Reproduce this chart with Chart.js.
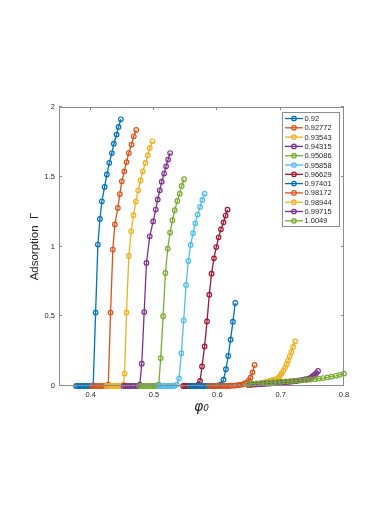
<!DOCTYPE html>
<html>
<head>
<meta charset="utf-8">
<title>Adsorption vs phi0</title>
<script src="https://cdn.jsdelivr.net/npm/chart.js@4.4.0/dist/chart.umd.min.js"></script>
<style>
  html, body { margin: 0; padding: 0; background: #fff; }
  #wrap { width: 390px; height: 505px; }
</style>
</head>
<body>
<div id="wrap"><canvas id="adsChart" width="390" height="505"></canvas></div>
<script>
// =========================
// Adsorption curves, one per legend value
// =========================

const curveLabels = ['0.92', '0.92772', '0.93543', '0.94315', '0.95086', '0.95858',
                     '0.96629', '0.97401', '0.98172', '0.98944', '0.99715', '1.0049'];

// x values (phi_0), one list per curve
const phiValues = [
    [0.377, 0.380, 0.384, 0.387, 0.391, 0.394, 0.398, 0.401, 0.404, 0.4078, 0.4114, 0.4146, 0.4177, 0.4220, 0.4256, 0.4294, 0.4335, 0.4366, 0.4409, 0.4440, 0.4476],
    [0.402, 0.405, 0.409, 0.412, 0.416, 0.420, 0.424, 0.4278, 0.4314, 0.4350, 0.4382, 0.4429, 0.4461, 0.4492, 0.4530, 0.4566, 0.4602, 0.4645, 0.4681, 0.4719],
    [0.425, 0.428, 0.432, 0.435, 0.439, 0.442, 0.446, 0.449, 0.4519, 0.4535, 0.4566, 0.4602, 0.4640, 0.4676, 0.4713, 0.4750, 0.4787, 0.4823, 0.4865, 0.4902, 0.4933, 0.4976],
    [0.452, 0.455, 0.459, 0.462, 0.466, 0.470, 0.474, 0.4776, 0.4807, 0.4845, 0.4881, 0.4933, 0.4987, 0.5028, 0.5059, 0.5091, 0.5122, 0.5160, 0.5191, 0.5223, 0.5254],
    [0.477, 0.481, 0.484, 0.488, 0.491, 0.495, 0.498, 0.502, 0.505, 0.5075, 0.5106, 0.5144, 0.5180, 0.5217, 0.5254, 0.5291, 0.5327, 0.5369, 0.5406, 0.5437, 0.5475],
    [0.508, 0.511, 0.515, 0.518, 0.522, 0.525, 0.529, 0.532, 0.536, 0.5396, 0.5432, 0.5469, 0.5506, 0.5542, 0.5579, 0.5616, 0.5652, 0.5689, 0.5727, 0.5763, 0.5799],
    [0.546, 0.549, 0.553, 0.556, 0.560, 0.563, 0.567, 0.570, 0.5727, 0.5758, 0.5799, 0.5837, 0.5873, 0.5909, 0.5947, 0.5983, 0.6020, 0.6057, 0.6098, 0.6130, 0.6161],
    [0.556, 0.560, 0.563, 0.567, 0.570, 0.574, 0.577, 0.581, 0.584, 0.588, 0.591, 0.595, 0.598, 0.602, 0.606, 0.6098, 0.6136, 0.6172, 0.6209, 0.6246, 0.6283],
    [0.587, 0.591, 0.594, 0.598, 0.601, 0.605, 0.608, 0.612, 0.615, 0.619, 0.622, 0.626, 0.629, 0.633, 0.636, 0.640, 0.643, 0.647, 0.6499, 0.6524, 0.6555, 0.6587],
    [0.648, 0.651, 0.655, 0.658, 0.662, 0.665, 0.669, 0.672, 0.676, 0.679, 0.683, 0.686, 0.690, 0.6939, 0.6965, 0.6991, 0.7018, 0.7043, 0.7070, 0.7097, 0.7117, 0.7144, 0.7169, 0.7196, 0.7228],
    [0.650, 0.654, 0.657, 0.661, 0.664, 0.668, 0.671, 0.675, 0.678, 0.682, 0.685, 0.689, 0.692, 0.696, 0.699, 0.703, 0.706, 0.710, 0.713, 0.717, 0.720, 0.724, 0.727, 0.731, 0.734, 0.738, 0.741, 0.7448, 0.7475, 0.7506, 0.7531, 0.7563, 0.7590],
    [0.649, 0.656, 0.662, 0.669, 0.675, 0.682, 0.688, 0.695, 0.701, 0.708, 0.715, 0.721, 0.728, 0.734, 0.741, 0.747, 0.754, 0.760, 0.767, 0.774, 0.780, 0.787, 0.793, 0.800]
];

// y values (adsorption Gamma), same order as phiValues
const gammaValues = [
    [0, 0, 0, 0, 0, 0, 0, 0, 0.005, 0.526, 1.014, 1.197, 1.324, 1.427, 1.516, 1.600, 1.670, 1.737, 1.802, 1.857, 1.912],
    [0, 0, 0, 0, 0, 0, 0, 0.01, 0.526, 0.978, 1.158, 1.276, 1.376, 1.467, 1.538, 1.605, 1.670, 1.730, 1.790, 1.835],
    [0, 0, 0, 0, 0, 0, 0, 0, 0.01, 0.089, 0.526, 0.932, 1.109, 1.224, 1.322, 1.403, 1.474, 1.539, 1.599, 1.654, 1.706, 1.754],
    [0, 0, 0, 0, 0, 0, 0, 0.01, 0.160, 0.530, 0.882, 1.073, 1.180, 1.265, 1.337, 1.403, 1.465, 1.523, 1.575, 1.623, 1.670],
    [0, 0, 0, 0, 0, 0, 0, 0, 0, 0.01, 0.200, 0.500, 0.810, 0.985, 1.100, 1.188, 1.260, 1.326, 1.379, 1.434, 1.482],
    [0, 0, 0, 0, 0, 0, 0, 0, 0.01, 0.055, 0.235, 0.470, 0.724, 0.896, 1.011, 1.095, 1.166, 1.229, 1.283, 1.334, 1.379],
    [0, 0, 0, 0, 0, 0, 0, 0.01, 0.036, 0.140, 0.284, 0.463, 0.654, 0.805, 0.915, 0.996, 1.066, 1.123, 1.173, 1.222, 1.264],
    [0, 0, 0, 0, 0, 0, 0, 0, 0, 0, 0, 0, 0.002, 0.005, 0.012, 0.045, 0.120, 0.215, 0.332, 0.461, 0.595],
    [0, 0, 0, 0, 0, 0, 0, 0, 0, 0, 0.002, 0.003, 0.004, 0.006, 0.008, 0.012, 0.018, 0.026, 0.041, 0.060, 0.098, 0.151],
    [0.005, 0.006, 0.008, 0.010, 0.012, 0.015, 0.018, 0.022, 0.027, 0.032, 0.037, 0.042, 0.046, 0.050, 0.060, 0.074, 0.091, 0.110, 0.132, 0.156, 0.182, 0.213, 0.244, 0.280, 0.320],
    [0.008, 0.010, 0.011, 0.012, 0.013, 0.014, 0.015, 0.016, 0.017, 0.018, 0.019, 0.020, 0.021, 0.022, 0.023, 0.025, 0.026, 0.028, 0.030, 0.032, 0.034, 0.036, 0.038, 0.041, 0.044, 0.047, 0.050, 0.053, 0.060, 0.070, 0.079, 0.093, 0.108],
    [0.015, 0.017, 0.019, 0.021, 0.023, 0.025, 0.027, 0.029, 0.031, 0.033, 0.035, 0.037, 0.039, 0.041, 0.043, 0.046, 0.049, 0.053, 0.057, 0.062, 0.067, 0.073, 0.080, 0.089]
];

const phiTicks = [0.4, 0.5, 0.6, 0.7, 0.8];
const gammaTicks = [0, 0.5, 1, 1.5, 2];

// MATLAB default line colour order (repeats after seven)
const lineColors = ['#0072BD', '#D95319', '#EDB120', '#7E2F8E', '#77AC30', '#4DBEEE', '#A2142F'];

const axisGray = '#8c8c8c';
const textColor = '#262626';

// Box round the axes with inward tick marks, plus the boxed legend in the top right
const matlabBox = {
    id: 'matlabBox',
    afterDraw(chart) {
        const { ctx, chartArea: a, scales } = chart;
        const tickLen = 3;
        ctx.save();
        ctx.strokeStyle = axisGray;
        ctx.lineWidth = 1;
        ctx.beginPath();
        ctx.rect(a.left + 0.5, a.top + 0.5, a.right - a.left - 1, a.bottom - a.top - 1);
        scales.x.ticks.forEach(t => {
            const px = Math.round(scales.x.getPixelForValue(t.value)) - 0.5;
            ctx.moveTo(px, a.bottom); ctx.lineTo(px, a.bottom - tickLen);
            ctx.moveTo(px, a.top); ctx.lineTo(px, a.top + tickLen);
        });
        scales.y.ticks.forEach(t => {
            const py = Math.round(scales.y.getPixelForValue(t.value)) - 0.5;
            ctx.moveTo(a.left, py); ctx.lineTo(a.left + tickLen, py);
            ctx.moveTo(a.right, py); ctx.lineTo(a.right - tickLen, py);
        });
        ctx.stroke();

        // legend
        const boxLeft = 282.5, boxTop = 112.5, boxW = 57, boxH = 114;
        ctx.fillStyle = '#fff';
        ctx.fillRect(boxLeft, boxTop, boxW, boxH);
        ctx.strokeStyle = axisGray;
        ctx.strokeRect(boxLeft, boxTop, boxW, boxH);
        ctx.font = '7.5px "Liberation Sans", Arial, sans-serif';
        ctx.textBaseline = 'middle';
        ctx.textAlign = 'left';
        chart.data.datasets.forEach((ds, i) => {
            const y = 118.5 + i * 9.3;
            ctx.strokeStyle = ds.borderColor;
            ctx.lineWidth = 1.3;
            ctx.beginPath();
            ctx.moveTo(285, y); ctx.lineTo(303, y);
            ctx.stroke();
            ctx.beginPath();
            ctx.arc(294, y, 2.2, 0, Math.PI * 2);
            ctx.stroke();
            ctx.fillStyle = textColor;
            ctx.fillText(ds.label, 304.5, y + 0.5);
        });
        ctx.restore();
    }
};

const datasets = curveLabels.map((label, i) => ({
    label: label,
    data: phiValues[i].map((x, j) => ({ x: x, y: gammaValues[i][j] })),
    showLine: true,
    borderColor: lineColors[i % lineColors.length],
    backgroundColor: 'rgba(0,0,0,0)',
    borderWidth: 1.3,
    pointRadius: 2.3,
    pointBorderWidth: 1.2,
    pointBackgroundColor: 'rgba(0,0,0,0)',
    pointBorderColor: lineColors[i % lineColors.length],
    tension: 0,
    clip: 6,
    order: curveLabels.length - i
}));

const tickFont = { family: '"Liberation Sans", Arial, sans-serif', size: 7.5 };

new Chart(document.getElementById('adsChart').getContext('2d'), {
    type: 'scatter',
    data: { datasets: datasets },
    options: {
        responsive: false,
        devicePixelRatio: 1,
        animation: false,
        layout: { padding: { left: 0, top: 107, right: 46, bottom: 0 } },
        plugins: {
            legend: { display: false },
            tooltip: { enabled: false }
        },
        scales: {
            x: {
                type: 'linear',
                min: 0.35,
                max: 0.8,
                grid: { display: false, drawTicks: false },
                border: { display: false },
                afterBuildTicks: s => { s.ticks = phiTicks.map(v => ({ value: v })); },
                afterFit: s => { s.height = 119; },
                ticks: {
                    color: textColor,
                    font: tickFont,
                    padding: 4,
                    maxRotation: 0,
                    callback: v => String(v)
                },
                title: {
                    display: true,
                    text: 'φ₀',
                    color: textColor,
                    font: { family: '"DejaVu Sans", sans-serif', size: 14, style: 'italic', lineHeight: 1.2 },
                    padding: { top: 0, bottom: 89 }
                }
            },
            y: {
                type: 'linear',
                min: 0,
                max: 2,
                grid: { display: false, drawTicks: false },
                border: { display: false },
                afterBuildTicks: s => { s.ticks = gammaTicks.map(v => ({ value: v })); },
                afterFit: s => { s.width = 59; },
                ticks: {
                    color: textColor,
                    font: tickFont,
                    padding: 4,
                    callback: v => String(v)
                },
                title: {
                    display: true,
                    text: 'Adsorption  Γ',
                    color: textColor,
                    font: { family: '"Liberation Sans", Arial, sans-serif', size: 11.5, lineHeight: 1.2 },
                    padding: { top: 28, bottom: 0 }
                }
            }
        }
    },
    plugins: [matlabBox]
});
</script>
</body>
</html>
